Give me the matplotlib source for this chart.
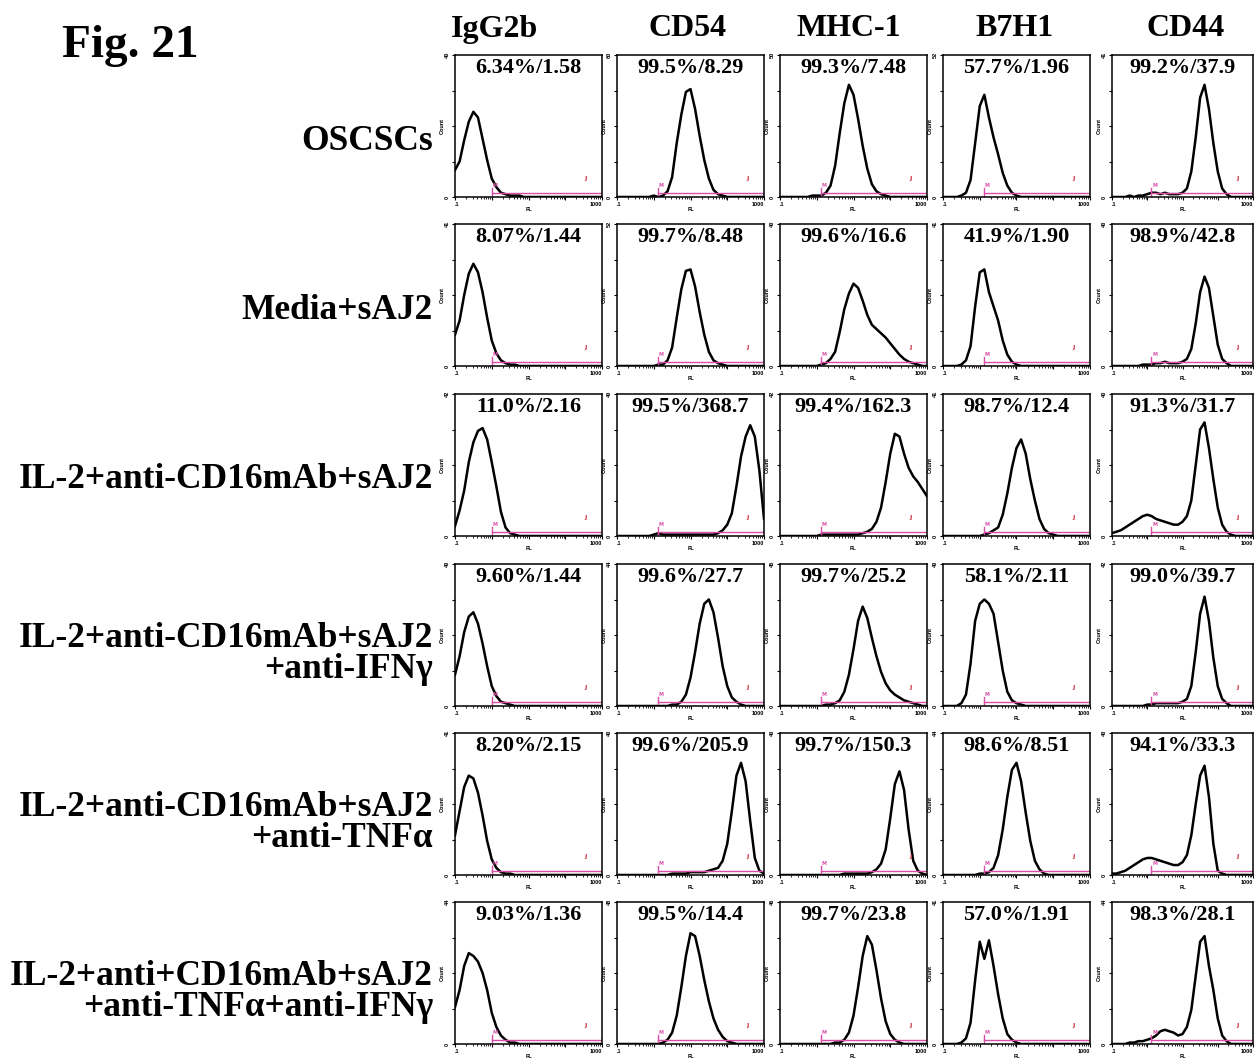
import numpy as np
import matplotlib
matplotlib.use("Agg")
import matplotlib.pyplot as plt

# log10 of the FL channel at each histogram bin (0.1 .. 1000)
FL_LOG = [-1.0, -0.875, -0.75, -0.625, -0.5, -0.375, -0.25, -0.125,
          0.0, 0.125, 0.25, 0.375, 0.5, 0.625, 0.75, 0.875,
          1.0, 1.125, 1.25, 1.375, 1.5, 1.625, 1.75, 1.875,
          2.0, 2.125, 2.25, 2.375, 2.5, 2.625, 2.75, 2.875, 3.0]

MARKERS = ["IgG2b", "CD54", "MHC-1", "B7H1", "CD44"]
CONDITIONS = [
    "OSCSCs",
    "Media+sAJ2",
    "IL-2+anti-CD16mAb+sAJ2",
    "IL-2+anti-CD16mAb+sAJ2\n+anti-IFN\u03b3",
    "IL-2+anti-CD16mAb+sAJ2\n+anti-TNF\u03b1",
    "IL-2+anti+CD16mAb+sAJ2\n+anti-TNF\u03b1+anti-IFN\u03b3",
]

# counts per bin, in % of each panel's y range; one row per condition
IGG2B_COUNTS = [
    [19, 25, 40, 53, 60, 56, 41, 26, 13, 7, 3, 2, 1, 1, 1, 0, 0, 0, 0, 0, 0, 0, 0, 0, 0, 0, 0, 0, 0, 0, 0, 0, 0],
    [22, 32, 50, 65, 72, 66, 52, 34, 18, 9, 4, 2, 1, 1, 0, 0, 0, 0, 0, 0, 0, 0, 0, 0, 0, 0, 0, 0, 0, 0, 0, 0, 0],
    [7, 18, 32, 52, 66, 74, 76, 68, 52, 35, 17, 6, 2, 1, 0, 0, 0, 0, 0, 0, 0, 0, 0, 0, 0, 0, 0, 0, 0, 0, 0, 0, 0],
    [22, 35, 52, 63, 66, 58, 44, 28, 14, 7, 3, 2, 1, 0, 0, 0, 0, 0, 0, 0, 0, 0, 0, 0, 0, 0, 0, 0, 0, 0, 0, 0, 0],
    [28, 45, 62, 70, 68, 58, 42, 24, 11, 5, 2, 1, 1, 0, 0, 0, 0, 0, 0, 0, 0, 0, 0, 0, 0, 0, 0, 0, 0, 0, 0, 0, 0],
    [26, 38, 55, 64, 62, 58, 50, 38, 22, 12, 6, 3, 1, 1, 0, 0, 0, 0, 0, 0, 0, 0, 0, 0, 0, 0, 0, 0, 0, 0, 0, 0, 0],
]
CD54_COUNTS = [
    [0, 0, 0, 0, 0, 0, 0, 0, 1, 0, 1, 4, 14, 38, 58, 74, 76, 62, 43, 26, 13, 5, 2, 1, 0, 0, 0, 0, 0, 0, 0, 0, 0],
    [0, 0, 0, 0, 0, 0, 0, 0, 0, 1, 1, 4, 13, 34, 54, 67, 68, 56, 38, 22, 10, 4, 2, 1, 0, 0, 0, 0, 0, 0, 0, 0, 0],
    [0, 0, 0, 0, 0, 0, 0, 0, 1, 2, 1, 1, 1, 1, 1, 1, 1, 1, 1, 1, 1, 1, 2, 4, 8, 16, 35, 56, 70, 78, 70, 46, 12],
    [0, 0, 0, 0, 0, 0, 0, 0, 0, 0, 0, 0, 1, 1, 3, 8, 20, 38, 58, 72, 75, 66, 48, 28, 14, 6, 3, 1, 0, 0, 0, 0, 0],
    [0, 0, 0, 0, 0, 0, 0, 0, 0, 0, 0, 0, 1, 1, 1, 1, 2, 2, 2, 2, 3, 4, 5, 10, 22, 45, 70, 79, 66, 38, 12, 3, 1],
    [0, 0, 0, 0, 0, 0, 0, 0, 0, 0, 1, 3, 8, 20, 40, 62, 78, 76, 62, 45, 30, 18, 10, 5, 2, 1, 0, 0, 0, 0, 0, 0, 0],
]
MHC1_COUNTS = [
    [0, 0, 0, 0, 0, 0, 0, 1, 1, 1, 3, 8, 22, 45, 66, 79, 72, 55, 36, 20, 9, 4, 2, 1, 0, 0, 0, 0, 0, 0, 0, 0, 0],
    [0, 0, 0, 0, 0, 0, 0, 0, 0, 1, 2, 5, 10, 24, 40, 51, 58, 55, 46, 36, 29, 26, 23, 20, 16, 12, 8, 5, 3, 2, 1, 0, 0],
    [0, 0, 0, 0, 0, 0, 0, 0, 0, 1, 1, 1, 1, 1, 1, 1, 1, 1, 2, 3, 5, 10, 20, 38, 58, 72, 70, 58, 48, 42, 38, 33, 28],
    [0, 0, 0, 0, 0, 0, 0, 0, 0, 0, 1, 1, 2, 4, 10, 22, 40, 60, 70, 62, 48, 35, 24, 16, 11, 8, 6, 4, 3, 2, 1, 0, 0],
    [0, 0, 0, 0, 0, 0, 0, 0, 0, 0, 0, 0, 0, 0, 1, 1, 1, 1, 1, 1, 2, 4, 8, 18, 40, 64, 73, 60, 32, 10, 3, 1, 0],
    [0, 0, 0, 0, 0, 0, 0, 0, 0, 0, 0, 0, 1, 1, 3, 8, 20, 40, 62, 76, 70, 52, 32, 16, 7, 3, 1, 0, 0, 0, 0, 0, 0],
]
B7H1_COUNTS = [
    [0, 0, 0, 0, 1, 3, 12, 38, 64, 72, 56, 42, 30, 17, 8, 3, 1, 0, 0, 0, 0, 0, 0, 0, 0, 0, 0, 0, 0, 0, 0, 0, 0],
    [0, 0, 0, 0, 1, 4, 14, 42, 66, 68, 52, 42, 32, 18, 8, 3, 1, 0, 0, 0, 0, 0, 0, 0, 0, 0, 0, 0, 0, 0, 0, 0, 0],
    [0, 0, 0, 0, 0, 0, 0, 0, 0, 1, 2, 4, 6, 15, 30, 48, 62, 68, 58, 40, 25, 12, 5, 2, 1, 0, 0, 0, 0, 0, 0, 0, 0],
    [0, 0, 0, 0, 2, 8, 30, 60, 72, 75, 72, 65, 45, 25, 10, 4, 2, 1, 0, 0, 0, 0, 0, 0, 0, 0, 0, 0, 0, 0, 0, 0, 0],
    [0, 0, 0, 0, 0, 0, 0, 0, 1, 1, 2, 5, 14, 32, 55, 74, 79, 66, 44, 24, 10, 4, 1, 0, 0, 0, 0, 0, 0, 0, 0, 0, 0],
    [0, 0, 0, 0, 1, 4, 15, 45, 72, 60, 73, 55, 35, 18, 7, 3, 1, 0, 0, 0, 0, 0, 0, 0, 0, 0, 0, 0, 0, 0, 0, 0, 0],
]
CD44_COUNTS = [
    [0, 0, 0, 0, 1, 0, 1, 1, 2, 3, 3, 2, 3, 2, 2, 2, 3, 6, 18, 42, 70, 79, 62, 38, 18, 6, 2, 0, 0, 0, 0, 0, 0],
    [0, 0, 0, 0, 0, 0, 0, 1, 1, 1, 2, 2, 3, 2, 2, 2, 3, 5, 12, 30, 52, 63, 55, 35, 15, 5, 2, 0, 0, 0, 0, 0, 0],
    [2, 3, 4, 6, 8, 10, 12, 14, 15, 14, 12, 11, 10, 9, 8, 8, 10, 14, 25, 50, 75, 80, 62, 40, 20, 8, 3, 1, 0, 0, 0, 0, 0],
    [0, 0, 0, 0, 0, 0, 0, 0, 1, 1, 2, 2, 2, 2, 2, 2, 3, 5, 14, 38, 65, 77, 60, 34, 14, 5, 2, 0, 0, 0, 0, 0, 0],
    [1, 1, 2, 3, 5, 7, 9, 11, 12, 12, 11, 10, 9, 8, 7, 7, 9, 14, 28, 50, 70, 77, 55, 22, 3, 1, 0, 0, 0, 0, 0, 0, 0],
    [0, 0, 0, 0, 1, 1, 2, 2, 3, 4, 6, 9, 10, 9, 8, 6, 7, 12, 24, 48, 72, 76, 55, 38, 18, 6, 2, 0, 0, 0, 0, 0, 0],
]

# % positive / MFI printed in each panel
IGG2B_STATS = ["6.34%/1.58", "8.07%/1.44", "11.0%/2.16", "9.60%/1.44", "8.20%/2.15", "9.03%/1.36"]
CD54_STATS = ["99.5%/8.29", "99.7%/8.48", "99.5%/368.7", "99.6%/27.7", "99.6%/205.9", "99.5%/14.4"]
MHC1_STATS = ["99.3%/7.48", "99.6%/16.6", "99.4%/162.3", "99.7%/25.2", "99.7%/150.3", "99.7%/23.8"]
B7H1_STATS = ["57.7%/1.96", "41.9%/1.90", "98.7%/12.4", "58.1%/2.11", "98.6%/8.51", "57.0%/1.91"]
CD44_STATS = ["99.2%/37.9", "98.9%/42.8", "91.3%/31.7", "99.0%/39.7", "94.1%/33.3", "98.3%/28.1"]

# y-axis maximum printed at the top of each count axis
IGG2B_YMAX = ["40", "41", "42", "40", "41", "44"]
CD54_YMAX = ["60", "52", "40", "44", "40", "48"]
MHC1_YMAX = ["50", "40", "42", "45", "40", "46"]
B7H1_YMAX = ["52", "41", "41", "40", "44", "41"]
CD44_YMAX = ["41", "40", "40", "42", "40", "44"]

# left end of the M1 gate (FL units), per marker column
GATE_START = [1.0, 1.3, 1.3, 1.3, 1.3]

counts_by_marker = [IGG2B_COUNTS, CD54_COUNTS, MHC1_COUNTS, B7H1_COUNTS, CD44_COUNTS]
stats_by_marker = [IGG2B_STATS, CD54_STATS, MHC1_STATS, B7H1_STATS, CD44_STATS]
ymax_by_marker = [IGG2B_YMAX, CD54_YMAX, MHC1_YMAX, B7H1_YMAX, CD44_YMAX]

W, H = 1254, 1061
COL_X = [455, 617, 780, 943, 1112]
COL_W = [147, 147, 147, 147, 141]
ROW_Y = [55, 224, 394, 564, 733, 902]
PANEL_H = 142
HEADER_X = [495, 688, 849, 1014, 1186]

SERIF = "Liberation Serif"
TINY = dict(family="Liberation Sans", weight="bold", fontsize=4)
GATE_PINK = "#d94fa8"
GATE_RED = "#c8283c"

fig = plt.figure(figsize=(W / 100, H / 100), dpi=100)
fig.patch.set_facecolor("white")

fl = 10 ** np.array(FL_LOG)

for c, marker in enumerate(MARKERS):
    fig.text(HEADER_X[c] / W, 1 - 29 / H, marker, family=SERIF, weight="bold",
             fontsize=23, ha="center", va="center")
    for r in range(len(CONDITIONS)):
        x0, y0 = COL_X[c], ROW_Y[r]
        ax = fig.add_axes([x0 / W, 1 - (y0 + PANEL_H) / H, COL_W[c] / W, PANEL_H / H])
        ax.set_xscale("log")
        ax.set_xlim(0.1, 1000)
        ax.set_ylim(0, 100)

        ax.plot(fl, counts_by_marker[c][r], color="black", lw=1.8, solid_joinstyle="round")

        # M1 gate bar
        g0 = GATE_START[c]
        ax.plot([g0, 1000], [3, 3], color=GATE_PINK, lw=1.0)
        ax.plot([g0, g0], [1, 6], color=GATE_PINK, lw=1.0)
        ax.text(g0 * 1.05, 6.5, "M", color=GATE_PINK, fontsize=3.5, weight="bold", va="bottom")
        ax.text(330, 11, "J", color=GATE_RED, fontsize=4.5, weight="bold", va="bottom")

        ax.text(0.5, 0.905, stats_by_marker[c][r], transform=ax.transAxes,
                family=SERIF, weight="bold", fontsize=16, ha="center", va="center")

        for s in ax.spines.values():
            s.set_linewidth(1.1)
        ax.set_yticks([0, 25, 50, 75, 100])
        ax.set_yticklabels(["0", "", "", "", ymax_by_marker[c][r]], rotation=90, va="center", **TINY)
        ax.tick_params(axis="y", direction="out", length=2.5, width=0.8, pad=1)
        ax.set_xticks([0.1, 1, 10, 100, 1000])
        xlabels = ax.set_xticklabels([".1", "", "", "", "1000"], **TINY)
        xlabels[0].set_ha("left")
        xlabels[-1].set_ha("right")
        ax.tick_params(axis="x", which="major", direction="out", length=2.5, width=0.8, pad=1)
        ax.tick_params(axis="x", which="minor", direction="out", length=1.5, width=0.6)
        ax.xaxis.set_minor_formatter(plt.NullFormatter())
        ax.set_xlabel("FL", labelpad=0, **TINY)
        ax.set_ylabel("Count", labelpad=0, **TINY)

# condition names to the left of each row
for r, name in enumerate(CONDITIONS):
    yc = ROW_Y[r] + PANEL_H / 2 + (19 if "\n" in name else 15)
    fig.text(433 / W, 1 - yc / H, name, family=SERIF, weight="bold", fontsize=25.5,
             ha="right", va="center", multialignment="right", linespacing=0.95)

fig.text(62 / W, 1 - 46 / H, "Fig. 21", family=SERIF, weight="bold", fontsize=34,
         ha="left", va="center")

fig.savefig("out.png", dpi=100, facecolor="white")
